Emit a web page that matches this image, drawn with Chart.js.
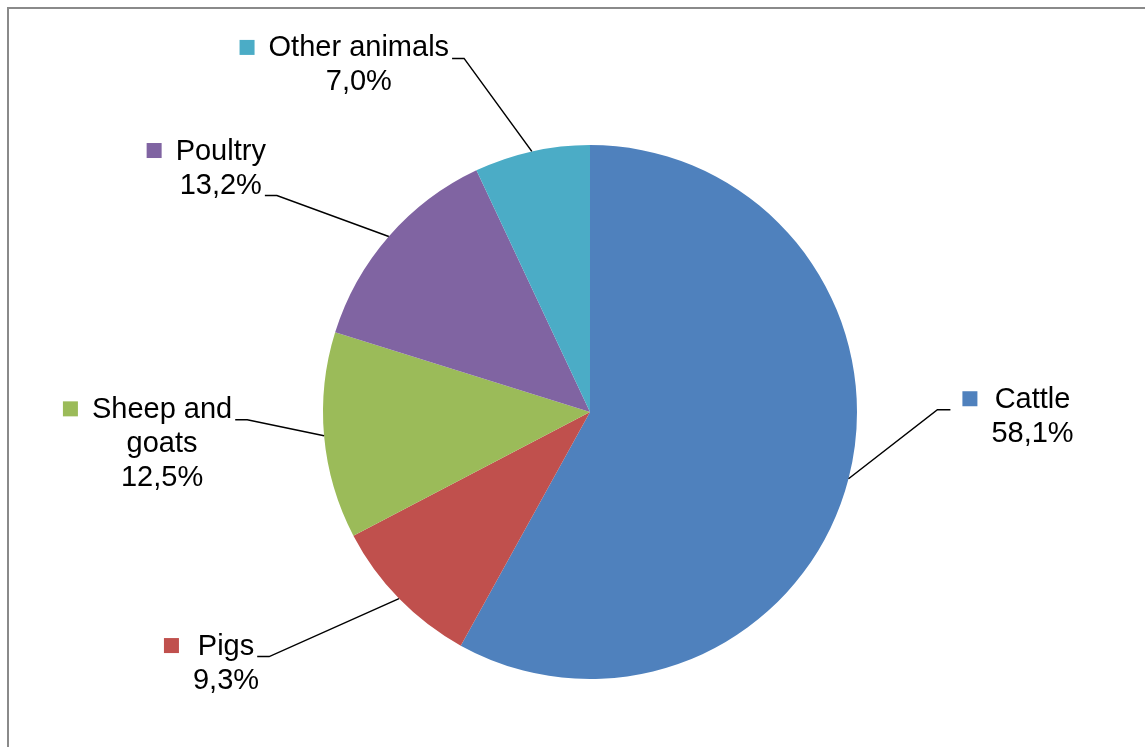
<!DOCTYPE html>
<html>
<head>
<meta charset="utf-8">
<script src="https://cdn.jsdelivr.net/npm/chart.js@4"></script>
<style>
    html, body { margin: 0; padding: 0; background: #fff; }
    #wrap { position: relative; width: 1145px; height: 747px; overflow: hidden; }
    #frame {
        position: absolute; left: 7px; top: 7px; width: 1200px; height: 800px;
        border-left: 2px solid #8a8a8a; border-top: 2px solid #8a8a8a;
    }
    #sharesChart { position: absolute; left: 0; top: 0; }
</style>
</head>
<body>
<div id="wrap">
    <div id="frame"></div>
    <canvas id="sharesChart" width="1145" height="747"></canvas>
</div>
<script>
const categories = ['Cattle', 'Pigs', ['Sheep and', 'goats'], 'Poultry', 'Other animals'];
const shares = [58.1, 9.3, 12.5, 13.2, 7.0];
const colors = ['#4f81bd', '#c0504d', '#9bbb59', '#8064a2', '#4bacc6'];

// where each label sits, relative to the middle of its slice edge
const labelOffsets = [
    { dx: 184, dy: -71, line: 0 },
    { dx: -173, dy: 56, line: 0 },
    { dx: -162, dy: -18, line: 0 },
    { dx: -168, dy: -77, line: 1 },
    { dx: -173, dy: -95, line: 0 }
];

function fmt(v) {
    return v.toFixed(1).replace('.', ',') + '%';
}

const outsideLabels = {
    id: 'outsideLabels',
    afterDatasetsDraw(chart) {
        const ctx = chart.ctx;
        const meta = chart.getDatasetMeta(0);
        ctx.save();
        ctx.font = '29px "Liberation Sans", Arial, sans-serif';
        ctx.textBaseline = 'alphabetic';
        ctx.textAlign = 'center';
        const lh = 34;

        meta.data.forEach((arc, i) => {
            const p = arc.getProps(['x', 'y', 'startAngle', 'endAngle', 'outerRadius'], true);
            const mid = (p.startAngle + p.endAngle) / 2;
            const ax = p.x + Math.cos(mid) * p.outerRadius;
            const ay = p.y + Math.sin(mid) * p.outerRadius;

            const name = categories[i];
            const lines = (Array.isArray(name) ? name : [name]).concat([fmt(shares[i])]);
            const off = labelOffsets[i];
            const cx = ax + off.dx;
            const base = ay + off.dy;
            const widths = lines.map(t => ctx.measureText(t).width);
            const blockLeft = cx - Math.max(...widths) / 2;

            // leader line
            const ly = base + off.line * lh + 2;
            let x1, x2;
            if (off.dx > 0) {
                x1 = blockLeft - 29 - 12;
                x2 = x1 - 13;
            } else {
                x1 = cx + widths[off.line] / 2 + 3;
                x2 = x1 + 12;
            }
            ctx.strokeStyle = '#000';
            ctx.lineWidth = 1.5;
            ctx.beginPath();
            ctx.moveTo(x1, ly);
            ctx.lineTo(x2, ly);
            ctx.lineTo(ax, ay);
            ctx.stroke();

            // legend key
            ctx.fillStyle = colors[i];
            ctx.fillRect(blockLeft - 29, base - 16.5, 15, 15);

            ctx.fillStyle = '#000';
            lines.forEach((t, k) => ctx.fillText(t, cx, base + k * lh));
        });
        ctx.restore();
    }
};

new Chart(document.getElementById('sharesChart').getContext('2d'), {
    type: 'pie',
    data: {
        labels: categories,
        datasets: [{
            data: shares,
            backgroundColor: colors,
            borderWidth: 0
        }]
    },
    options: {
        responsive: false,
        animation: false,
        layout: { padding: { top: 145, bottom: 68, left: 150, right: 115 } },
        plugins: {
            legend: { display: false },
            tooltip: { enabled: false }
        }
    },
    plugins: [outsideLabels]
});
</script>
</body>
</html>
